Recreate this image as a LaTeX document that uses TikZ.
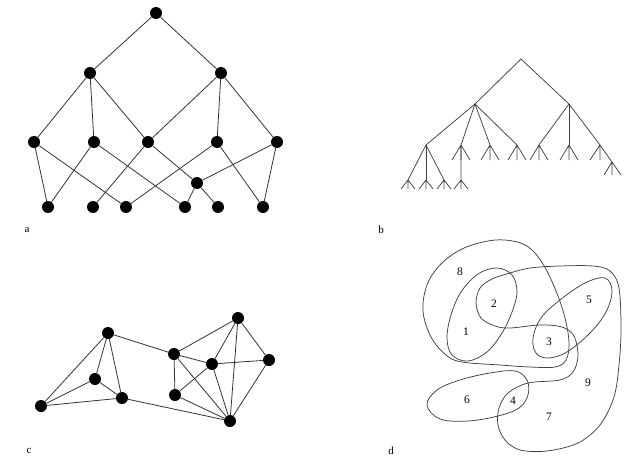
\documentclass[tikz,border=0pt]{standalone}
\usepackage{fontspec}
\setmainfont{Liberation Serif}
\begin{document}
\begin{tikzpicture}[x={(1pt,0)},y={(0,-1pt)},
  edge/.style={draw=black!80,line width=0.8pt},
  thin/.style={draw=black!75,line width=0.75pt},
  dot/.style={circle,fill=black,inner sep=0pt,minimum size=12pt},
  lab/.style={font=\fontsize{11}{12}\selectfont,inner sep=0pt},
  num/.style={font=\fontsize{11.5}{12}\selectfont,inner sep=0pt}]
\useasboundingbox (0,0) rectangle (627,463);
% ---------- panel a ----------
\node[dot] (t) at (156,13) {};
\node[dot] (m1) at (90,73) {};
\node[dot] (m2) at (221,73) {};
\node[dot] (l1) at (34,142) {};
\node[dot] (l2) at (94,142) {};
\node[dot] (l3) at (148,142) {};
\node[dot] (l4) at (217,142) {};
\node[dot] (l5) at (277,142) {};
\node[dot] (x) at (197,183) {};
\node[dot] (b1) at (48,207) {};
\node[dot] (b2) at (93,207) {};
\node[dot] (b3) at (126,207) {};
\node[dot] (b4) at (185,207) {};
\node[dot] (b5) at (218,207) {};
\node[dot] (b6) at (263,207) {};
\foreach \u/\v in {t/m1,t/m2,m1/l1,m1/l2,m1/l3,m2/l3,m2/l4,m2/l5,
  l1/b1,l1/b3,l2/b1,l2/b4,l3/b2,l3/x,l4/b3,l4/b6,l5/x,l5/b6,x/b4,x/b5}
  \path[edge] (\u) -- (\v);
\node[lab] (la) at (27,230) {a};
% ---------- panel b ----------
\coordinate (R) at (521,59);
\coordinate (L) at (475,104);
\coordinate (Rt) at (569,104);
\coordinate (a1) at (426,145);
\coordinate (a2) at (461,145);
\coordinate (a3) at (490,145);
\coordinate (a4) at (517,145);
\coordinate (c1) at (539,145);
\coordinate (c2) at (569,145);
\coordinate (c3) at (600,145);
\coordinate (f1) at (408,180);
\coordinate (f2) at (426,180);
\coordinate (f3) at (444,180);
\coordinate (f4) at (461,180);
\coordinate (f5) at (612,162);
\path[thin] (R) -- (L) (R) -- (Rt);
\foreach \c in {a1,a2,a3,a4} \path[thin] (L) -- (\c);
\foreach \c in {c1,c2,c3} \path[thin] (Rt) -- (\c);
\foreach \c in {f1,f2,f3} \path[thin] (a1) -- (\c);
\path[thin] (a2) -- (f4) (c3) -- (f5);
\foreach \c in {a2,a3,a4,c1,c2}
  \path[thin] (\c) -- ++(-9,15) (\c) -- ++(0,15) (\c) -- ++(9,15);
\path[thin] (c3) -- ++(-10,15) (c3) -- ++(0,15);
\foreach \c in {f1,f2,f3,f4}
  \path[thin] (\c) -- ++(-7,9) (\c) -- ++(0,9) (\c) -- ++(7,9);
\path[thin] (f5) -- ++(-8,13) (f5) -- ++(0,13) (f5) -- ++(9,13);
\node[lab] (lb) at (381,230) {b};
% ---------- panel c ----------
\node[dot] (A) at (108,333) {};
\node[dot] (B) at (95,379) {};
\node[dot] (C) at (122,398) {};
\node[dot] (D) at (41,406) {};
\node[dot] (E) at (174,354) {};
\node[dot] (F) at (212,364) {};
\node[dot] (G) at (238,318) {};
\node[dot] (H) at (269,360) {};
\node[dot] (I) at (175,395) {};
\node[dot] (J) at (230,421) {};
\foreach \u/\v in {A/B,A/C,A/D,A/E,B/D,B/C,C/D,C/J,E/I,E/F,E/G,E/J,
  F/G,F/H,F/I,F/J,G/H,G/J,H/J,I/J}
  \path[edge] (\u) -- (\v);
\node[lab] (lc) at (29,451) {c};
% ---------- panel d ----------
\draw[thin] plot[smooth cycle,tension=0.6] coordinates {
 (423,311) (427,285) (440,265) (460,250) (483,242) (505,240) (527,246)
 (543,264) (556,291) (565,318) (569,343) (566,360) (555,367) (530,367)
 (500,365) (462,362) (446,355) (431,337)};
\draw[thin] plot[smooth cycle,tension=0.6] coordinates {
 (497,268) (512,275) (517,292) (512,312) (502,333) (487,352) (468,361)
 (452,355) (447,338) (451,315) (461,292) (478,274)};
\draw[thin] plot[smooth cycle,tension=0.55] coordinates {
 (480,288) (492,279) (510,273) (530,268) (560,266) (593,266) (610,271)
 (619,288) (621,330) (619,365) (614,397) (600,425) (578,443) (547,451)
 (520,450) (505,440) (498,425) (499,408) (508,393) (528,383) (560,380)
 (573,372) (578,356) (574,336) (562,327) (540,325) (510,328) (495,326)
 (481,318) (476,303)};
\draw[thin] plot[smooth cycle,tension=0.6] coordinates {
 (605,278) (612,291) (606,312) (590,333) (567,352) (548,358) (536,353)
 (533,338) (541,318) (560,300) (585,283)};
\draw[thin] plot[smooth cycle,tension=0.6] coordinates {
 (427,405) (437,390) (460,380) (490,373) (515,371) (527,380) (528,395)
 (519,408) (498,416) (468,421) (440,419)};
\node[num] (n8) at (460,272) {8};
\node[num] (n2) at (494,304) {2};
\node[num] (n1) at (466,332) {1};
\node[num] (n5) at (589,300) {5};
\node[num] (n3) at (549,342) {3};
\node[num] (n9) at (588,383) {9};
\node[num] (n6) at (467,400) {6};
\node[num] (n4) at (513,401) {4};
\node[num] (n7) at (549,417) {7};
\node[lab] (ld) at (391,451) {d};
\end{tikzpicture}
\end{document}
